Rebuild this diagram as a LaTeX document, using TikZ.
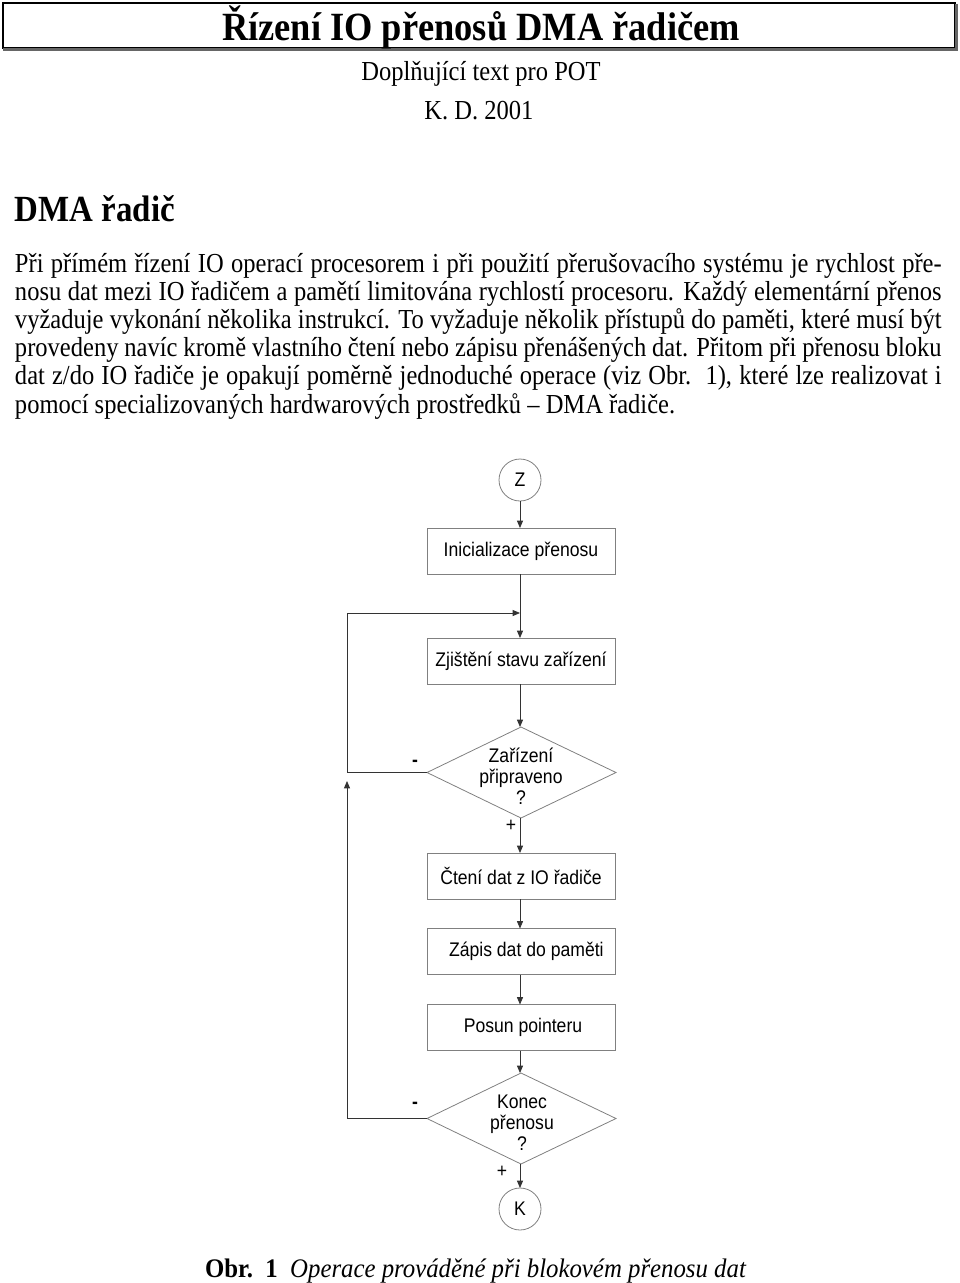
\documentclass[tikz,border=0pt]{standalone}
\usepackage{graphicx}
\usepackage{fontspec}
\setmainfont{Liberation Serif}
\newfontfamily\flowfont{Liberation Sans}
\usetikzlibrary{arrows.meta}
\newcommand{\vstretch}[2][1.12]{\scalebox{1}[#1]{#2}}
\newcommand{\threelines}[3]{\vstretch{\begin{tabular}{@{}c@{}}#1\\#2\\#3\end{tabular}}}
\begin{document}
\begin{tikzpicture}[x=0.75pt,y=-0.75pt,
  every node/.style={inner sep=0pt, outer sep=0pt},
  bodytext/.style={anchor=base west, font=\fontsize{18.4}{21}\selectfont},
  flowbox/.style={draw=black!50, line width=0.6pt, minimum width=141pt, minimum height=34.5pt,
     font=\flowfont\fontsize{13.2}{15.75}\selectfont},
  flowcirc/.style={draw=black!50, line width=0.6pt, circle, minimum size=31.5pt,
     font=\flowfont\fontsize{13.2}{15.75}\selectfont},
  flowtext/.style={font=\flowfont\fontsize{13.2}{14.1}\selectfont},
  decisionshape/.style={draw=black!50, line width=0.6pt},
  conn/.style={draw=black!80, line width=0.6pt},
  arr/.style={conn, -{Triangle[length=5.5pt,width=4.5pt]}},
  signlabel/.style={font=\flowfont\fontsize{13.2}{15.75}\selectfont}
]
\useasboundingbox (0,0) rectangle (960,1283);

% title box
\draw[line width=0.8pt] (3,3) rectangle (955,48);
\draw[black!60, line width=1.6pt] (3,49.5) -- (956.5,49.5) -- (956.5,4);
\node[anchor=base, font=\fontsize{27.3}{30}\selectfont\bfseries] (title) at (481,40) {\vstretch[1.1]{Řízení IO přenosů DMA řadičem}};
\node[anchor=base, font=\fontsize{18.4}{21}\selectfont] (sub) at (481,80) {\vstretch{Doplňující text pro POT}};
\node[anchor=base, font=\fontsize{18.4}{21}\selectfont] (auth) at (479,119) {\vstretch{K. D. 2001}};

\node[anchor=base west, font=\fontsize{24.7}{28}\selectfont\bfseries] (head) at (15,221) {\vstretch{DMA řadič}};

\node[bodytext] (l1) at (15,272) {\vstretch{\makebox[695pt][s]{Při přímém řízení IO operací procesorem i při použití přerušovacího systému je rychlost pře-}}};
\node[bodytext] (l2) at (15,300.2) {\vstretch{\makebox[695pt][s]{nosu dat mezi IO řadičem a pamětí limitována rychlostí procesoru. Každý elementární přenos}}};
\node[bodytext] (l3) at (15,328.4) {\vstretch{\makebox[695pt][s]{vyžaduje vykonání několika instrukcí. To vyžaduje několik přístupů do paměti, které musí být}}};
\node[bodytext] (l4) at (15,356.6) {\vstretch{\makebox[695pt][s]{provedeny navíc kromě vlastního čtení nebo zápisu přenášených dat. Přitom při přenosu bloku}}};
\node[bodytext] (l5) at (15,384.8) {\vstretch{\makebox[695pt][s]{dat z/do IO řadiče je opakují poměrně jednoduché operace (viz Obr.\ \ 1), které lze realizovat i}}};
\node[bodytext] (l6) at (15,413) {\vstretch{pomocí specializovaných hardwarových prostředků – DMA řadiče.}};

% flowchart
\node[flowcirc] (Z) at (520,480) {\vstretch{Z}};
\node[flowbox] (init) at (521,551) {\vstretch{Inicializace přenosu}};
\node[flowbox] (zj) at (521,661) {\vstretch{Zjištění stavu zařízení}};

\coordinate (d1t) at (521,727);
\coordinate (d1r) at (616,772.5);
\coordinate (d1b) at (521,818);
\coordinate (d1l) at (427,772.5);
\draw[decisionshape] (d1t) -- (d1r) -- (d1b) -- (d1l) -- cycle;
\node[flowtext] (d1) at (521,779) {\threelines{Zařízení}{připraveno}{?}};

\node[flowbox] (cteni) at (521,876) {\vstretch{Čtení dat z IO řadiče}};
\node[flowbox] (zapis) at (521,951.5) {\hspace*{8pt}\vstretch{Zápis dat do paměti}};
\node[flowbox] (posun) at (521,1027.5) {\hspace*{3pt}\vstretch{Posun pointeru}};

\coordinate (d2t) at (521,1073);
\coordinate (d2r) at (616,1118.5);
\coordinate (d2b) at (521,1164);
\coordinate (d2l) at (427,1118.5);
\draw[decisionshape] (d2t) -- (d2r) -- (d2b) -- (d2l) -- cycle;
\node[flowtext] (d2) at (522,1125) {\threelines{Konec}{přenosu}{?}};

\node[flowcirc] (K) at (520,1209) {\vstretch{K}};

% connectors
\coordinate (lx) at (347,0);
\coordinate (j1) at (520,613);
\coordinate (up) at (347,781);
\draw[arr] (Z.south) -- (Z.south |- init.north);
\draw[conn] (init.south -| Z) -- (j1);
\draw[arr] (j1) -- (zj.north -| Z);
\draw[arr] (zj.south -| Z) -- (Z |- d1t);
\draw[arr] (Z |- d1b) -- (cteni.north -| Z);
\draw[arr] (cteni.south -| Z) -- (zapis.north -| Z);
\draw[arr] (zapis.south -| Z) -- (posun.north -| Z);
\draw[arr] (posun.south -| Z) -- (Z |- d2t);
\draw[arr] (Z |- d2b) -- (K.north);
\draw[arr] (d1l) -- (d1l -| lx) -- (lx |- j1) -- (j1);
\draw[arr] (d2l) -- (d2l -| lx) -- (up);

\node[signlabel] (m1) at (415,763) {\vstretch{\textbf{-}}};
\node[signlabel] (p1) at (511,826) {\vstretch{+}};
\node[signlabel] (m2) at (415,1105) {\vstretch{\textbf{-}}};
\node[signlabel] (p2) at (502,1172) {\vstretch{+}};

% caption
\node[anchor=base west, font=\fontsize{18.6}{21}\selectfont] (cap) at (205,1277) {\vstretch[1.08]{\textbf{Obr.\ \ 1}\ \ \textit{Operace prováděné při blokovém přenosu dat}}};
\end{tikzpicture}
\end{document}
